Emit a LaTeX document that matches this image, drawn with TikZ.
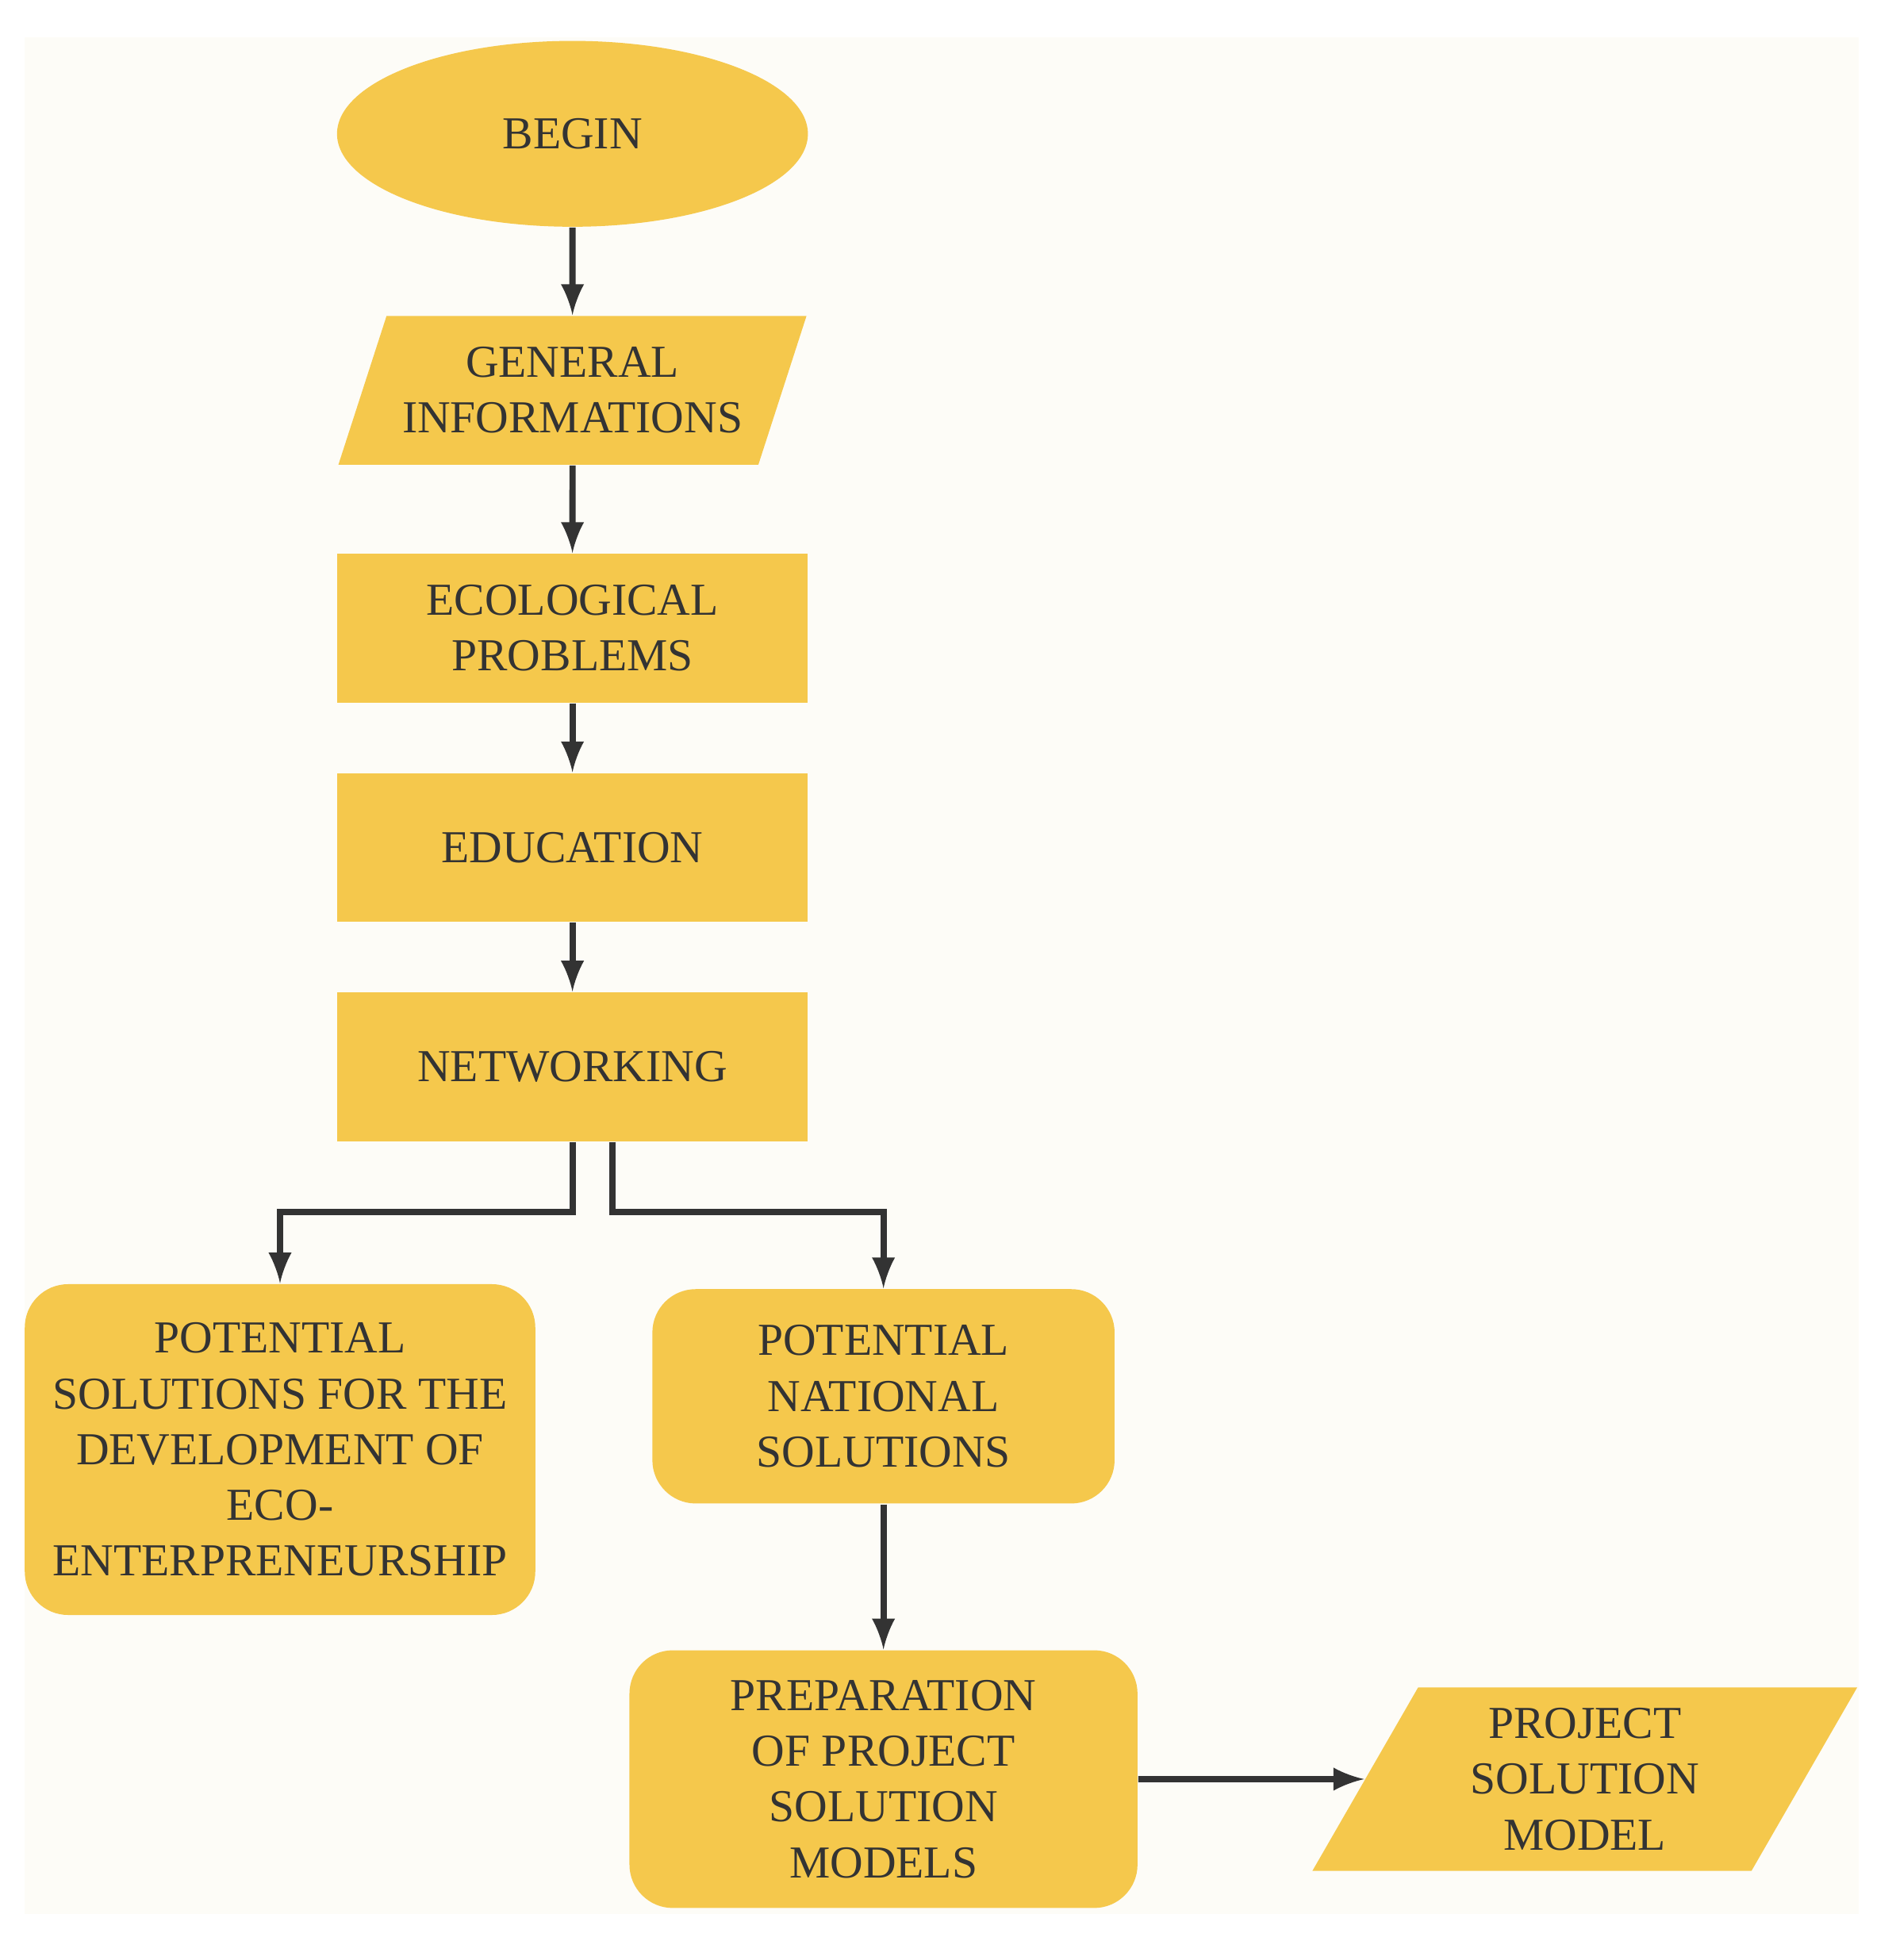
\documentclass[tikz,border=0pt]{standalone}
\usepackage{fontspec}
\setmainfont{Liberation Serif}
\usetikzlibrary{shapes.geometric}
\definecolor{boxfill}{HTML}{F5C84C}
\definecolor{ink}{HTML}{333333}
\definecolor{paper}{HTML}{FDFCF7}
\begin{document}
\begin{tikzpicture}[x=0.1mm,y=-0.1mm,
    box/.style={fill=boxfill,text=ink,align=center,font=\fontsize{10.5}{12.8}\selectfont,inner sep=0pt},
    stage/.style={box,rectangle,minimum width=38mm,minimum height=12mm},
    soft/.style={box,rectangle,rounded corners=3.5mm},
    io/.style={box,trapezium,trapezium left angle=63,trapezium right angle=117,trapezium stretches=true},
    link/.style={draw=ink,line width=0.5mm,-latex}]
    \useasboundingbox (0,0) rectangle (1530,1582);
    \fill[paper] (20,30) rectangle (1500,1545);

    \node (begin) at (462,108) [box,ellipse,minimum width=38mm,minimum height=15mm] {BEGIN};
    \node (info) at (462,315) [io,minimum width=38mm,minimum height=12mm] {GENERAL\\INFORMATIONS};
    \node (eco) at (462,507) [stage] {ECOLOGICAL\\PROBLEMS};
    \node (edu) at (462,684) [stage] {EDUCATION};
    \node (net) at (462,861) [stage] {NETWORKING};
    \node (eent) at (226,1170) [soft,minimum width=41.2mm,minimum height=26.7mm] {POTENTIAL\\SOLUTIONS FOR THE\\DEVELOPMENT OF\\ECO-\\ENTERPRENEURSHIP};
    \node (nat) at (713,1127) [soft,minimum width=37.3mm,minimum height=17.3mm] {POTENTIAL\\NATIONAL\\SOLUTIONS};
    \node (prep) at (713,1436) [soft,minimum width=41mm,minimum height=20.8mm] {PREPARATION\\OF PROJECT\\SOLUTION\\MODELS};
    \node (model) at (1279,1436) [io,minimum width=44.2mm,minimum height=14.8mm] {PROJECT\\SOLUTION\\MODEL};

    \draw[link] (begin) -- (info);
    \draw[link] (info) -- (eco);
    \draw[link] (eco) -- (edu);
    \draw[link] (edu) -- (net);
    \draw[link] (net.south) |- (226,978) -- (eent.north);
    \draw[link] ([xshift=3.2mm]net.south) |- (713,978) -- (nat.north);
    \draw[link] (nat) -- (prep);
    \draw[link] (prep) -- (model);
\end{tikzpicture}
\end{document}
